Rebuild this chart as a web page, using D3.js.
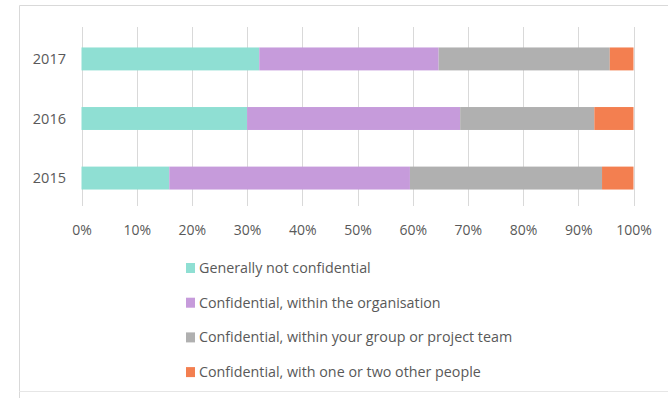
<!DOCTYPE html>
<html><head><meta charset="utf-8">
<script src="https://cdn.jsdelivr.net/npm/d3@7"></script>
<style>body{margin:0;background:#fff}svg{display:block}text{font-family:"Open Sans",sans-serif}</style>
</head><body><svg id="c" width="668" height="398"></svg>
<script>
const years = ["2017", "2016", "2015"];
const seriesNames = ["Generally not confidential", "Confidential, within the organisation", "Confidential, within your group or project team", "Confidential, with one or two other people"];
const generallyNot = [32.2, 30.0, 15.9];
const withinOrg = [32.5, 38.6, 43.6];
const withinGroup = [31.0, 24.3, 34.8];
const oneOrTwo = [4.3, 7.1, 5.7];
const xTicks = [0, 10, 20, 30, 40, 50, 60, 70, 80, 90, 100];
const colors = ["#8fdfd3", "#c69bdb", "#b0b0b0", "#f37f50"];

const svg = d3.select("#c");
// frame
svg.append("path").attr("d", "M19.5,398 V5.5 H668").attr("fill", "none").attr("stroke", "#d9d9d9");
svg.append("line").attr("x1", 19).attr("x2", 668).attr("y1", 391.5).attr("y2", 391.5).attr("stroke", "#e6e6e6");

const x = d3.scaleLinear().domain([0, 100]).range([81.5, 633.5]);
const y = d3.scaleBand().domain(years).range([29, 208]).paddingInner(0.615).paddingOuter(0.31);

const rows = years.map((yr, i) => ({year: yr, g: generallyNot[i], o: withinOrg[i], t: withinGroup[i], p: oneOrTwo[i]}));
const stack = d3.stack().keys(["g", "o", "t", "p"]);
const series = stack(rows);

// gridlines
svg.append("g").selectAll("line").data(xTicks).join("line")
  .attr("x1", d => Math.round(x(d)) + 0.5).attr("x2", d => Math.round(x(d)) + 0.5)
  .attr("y1", 27).attr("y2", 206).attr("stroke", "#d9d9d9");

svg.append("g").selectAll("g").data(series).join("g").attr("fill", (d, i) => colors[i])
  .selectAll("rect").data(d => d).join("rect")
  .attr("x", d => x(d[0])).attr("width", d => x(d[1]) - x(d[0]))
  .attr("y", d => y(d.data.year)).attr("height", y.bandwidth());

// y labels
svg.append("g").selectAll("text").data(years).join("text")
  .attr("x", 66).attr("y", d => y(d) + y.bandwidth() / 2).attr("dy", "0.35em")
  .attr("text-anchor", "end").attr("font-size", 14.5).attr("fill", "#595959").text(d => d);

// x axis labels
const xa = d3.axisBottom(x).tickValues(xTicks).tickFormat(d => d + "%").tickSize(0).tickPadding(0);
const ga = svg.append("g").attr("transform", "translate(0,230)").call(xa);
ga.select(".domain").remove();
ga.selectAll("text").attr("font-size", 14).attr("fill", "#595959").attr("dy", "0.35em").attr("font-family", "'Open Sans',sans-serif");

// legend
const leg = svg.append("g").selectAll("g").data(seriesNames).join("g")
  .attr("transform", (d, i) => `translate(186,${268 + i * 34.7})`);
leg.append("rect").attr("x", 0).attr("y", -5).attr("width", 9).attr("height", 10).attr("fill", (d, i) => colors[i]);
leg.append("text").attr("x", 13).attr("dy", "0.35em").attr("font-size", 14.3).attr("fill", "#595959").text(d => d);
</script></body></html>
